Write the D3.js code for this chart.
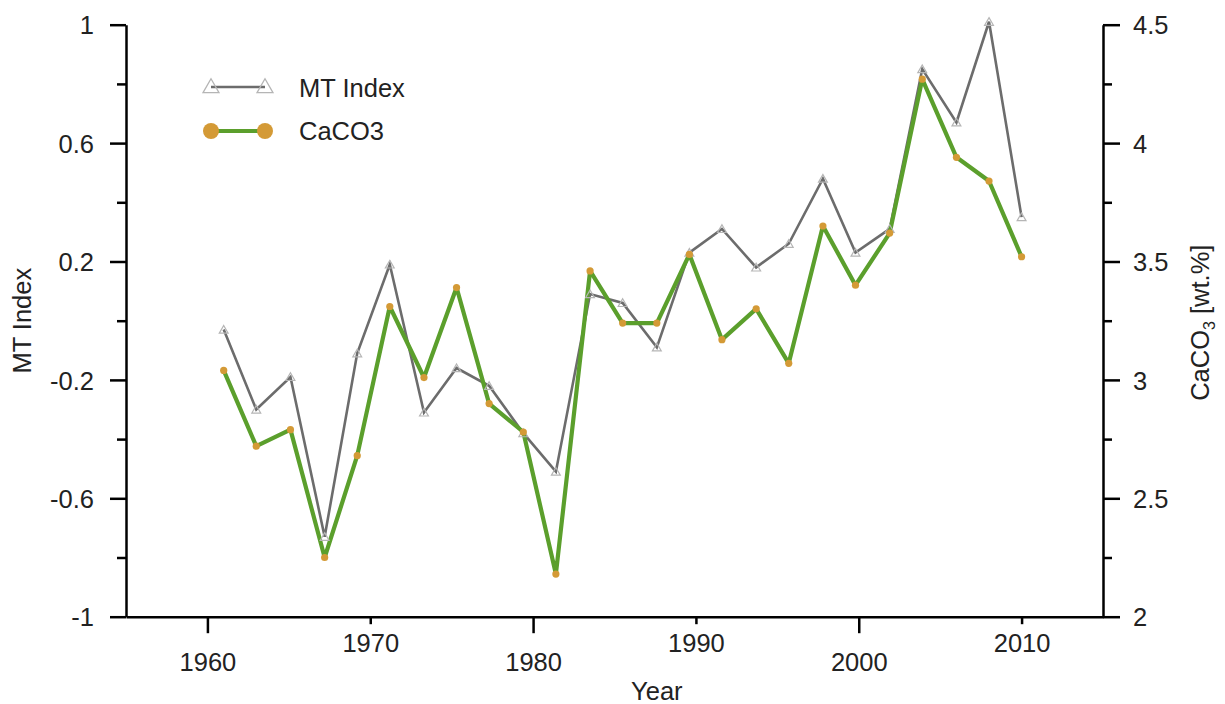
<!DOCTYPE html>
<html>
<head>
<meta charset="utf-8">
<script src="https://cdn.jsdelivr.net/npm/d3@7/dist/d3.min.js"></script>
<style>
  body { margin: 0; background: #fff; }
  svg { display: block; font-family: "Liberation Sans", Arial, sans-serif; }
  .axis path, .axis line { stroke: #000; stroke-width: 2.5px; }
  .axis text { font-size: 25.5px; fill: #222; }
</style>
</head>
<body>
<svg id="chart" width="1225" height="704"></svg>
<script>
// sampling years
var years = [1961.0, 1963.0, 1965.1, 1967.2, 1969.2, 1971.2, 1973.3, 1975.3, 1977.3, 1979.4,
  1981.4, 1983.5, 1985.5, 1987.6, 1989.6, 1991.6, 1993.7, 1995.7, 1997.8, 1999.8,
  2001.9, 2003.9, 2006.0, 2008.0, 2010.0];

// left axis series
var mtIndex = [-0.03, -0.30, -0.19, -0.73, -0.11, 0.19, -0.31, -0.16, -0.22, -0.38,
  -0.51, 0.09, 0.06, -0.09, 0.23, 0.31, 0.18, 0.26, 0.48, 0.23,
  0.31, 0.85, 0.67, 1.01, 0.35];

// right axis series, wt.%
var caco3 = [3.04, 2.72, 2.79, 2.25, 2.68, 3.31, 3.01, 3.39, 2.90, 2.78,
  2.18, 3.46, 3.24, 3.24, 3.53, 3.17, 3.30, 3.07, 3.65, 3.40,
  3.62, 4.27, 3.94, 3.84, 3.52];

var xTicks = [1960, 1970, 1980, 1990, 2000, 2010];
var leftTicks = [-1, -0.6, -0.2, 0.2, 0.6, 1];
var leftMinor = [-0.8, -0.4, 0, 0.4, 0.8];
var rightTicks = [2, 2.5, 3, 3.5, 4, 4.5];
var rightMinor = [2.25, 2.75, 3.25, 3.75, 4.25];

var margin = { top: 24.7, right: 122, bottom: 87.3, left: 126 };
var svg = d3.select('#chart');
var width = 1225 - margin.left - margin.right;
var height = 704 - margin.top - margin.bottom;
var fontSize = '25.5px';

var g = svg.append('g')
  .attr('transform', 'translate(' + margin.left + ',' + margin.top + ')');

var x = d3.scaleLinear().domain([1955, 2015]).range([0, width]);
var yL = d3.scaleLinear().domain([-1, 1]).range([height, 0]);
var yR = d3.scaleLinear().domain([2, 4.5]).range([height, 0]);

var fmt = function (d) { return String(d); };

// minor ticks first so the main axes sit on top
g.append('g').attr('class', 'axis')
  .call(d3.axisLeft(yL).tickValues(leftMinor).tickSize(9).tickFormat(''))
  .select('.domain').remove();
g.append('g').attr('class', 'axis')
  .attr('transform', 'translate(' + width + ',0)')
  .call(d3.axisRight(yR).tickValues(rightMinor).tickSize(9).tickFormat(''))
  .select('.domain').remove();

var left = g.append('g').attr('class', 'axis')
  .call(d3.axisLeft(yL).tickValues(leftTicks).tickSize(16).tickSizeOuter(0).tickPadding(16).tickFormat(fmt));
left.selectAll('text').attr('dy', '0.36em');

var right = g.append('g').attr('class', 'axis')
  .attr('transform', 'translate(' + width + ',0)')
  .call(d3.axisRight(yR).tickValues(rightTicks).tickSize(17).tickSizeOuter(0).tickPadding(13).tickFormat(fmt));
right.selectAll('text').attr('dy', '0.36em');

var bottom = g.append('g').attr('class', 'axis')
  .attr('transform', 'translate(0,' + height + ')')
  .call(d3.axisBottom(x).tickValues(xTicks).tickSizeOuter(0).tickFormat(fmt));

// alternate long / short ticks with staggered labels
bottom.selectAll('.tick').each(function (d, i) {
  var t = d3.select(this);
  var long = i % 2 === 0;
  t.select('line').attr('y2', long ? 16.5 : 7.5);
  t.select('text').attr('dy', null).attr('y', long ? 54.5 : 35.5);
});

// axis titles
svg.append('text')
  .attr('x', margin.left + x(1987.6)).attr('y', 700)
  .attr('text-anchor', 'middle').style('font-size', fontSize).attr('fill', '#222')
  .text('Year');

svg.append('text')
  .attr('transform', 'translate(31,' + (margin.top + height / 2) + ') rotate(-90)')
  .attr('text-anchor', 'middle').style('font-size', fontSize).attr('fill', '#222')
  .text('MT Index');

var rt = svg.append('text')
  .attr('transform', 'translate(1209,' + (margin.top + height / 2 + 2) + ') rotate(-90)')
  .attr('text-anchor', 'middle').style('font-size', fontSize).attr('fill', '#222');
rt.append('tspan').text('CaCO');
rt.append('tspan').attr('dy', 6).style('font-size', '16px').text('3');
rt.append('tspan').attr('dy', -6).text(' [wt.%]');

// series
var mtData = years.map(function (yr, i) { return { x: yr, y: mtIndex[i] }; });
var caData = years.map(function (yr, i) { return { x: yr, y: caco3[i] }; });

var grey = '#6c6c6c';
var green = '#5b9f2c';
var orange = '#d49a36';

var mtLine = d3.line().x(function (d) { return x(d.x); }).y(function (d) { return yL(d.y); });
var caLine = d3.line().x(function (d) { return x(d.x); }).y(function (d) { return yR(d.y); });

g.append('path').datum(mtData)
  .attr('d', mtLine).attr('fill', 'none')
  .attr('stroke', grey).attr('stroke-width', 2.6).attr('stroke-linejoin', 'miter');

g.append('path').datum(caData)
  .attr('d', caLine).attr('fill', 'none')
  .attr('stroke', green).attr('stroke-width', 4.2).attr('stroke-linejoin', 'round');

var tri = d3.symbol().type(d3.symbolTriangle).size(34);

g.selectAll('.tri').data(mtData).enter().append('path')
  .attr('class', 'tri')
  .attr('d', tri)
  .attr('transform', function (d) { return 'translate(' + x(d.x) + ',' + (yL(d.y) + 1) + ')'; })
  .attr('fill', 'none').attr('stroke', '#b5b5b5').attr('stroke-width', 1.2);

g.selectAll('.dot').data(caData).enter().append('circle')
  .attr('class', 'dot')
  .attr('cx', function (d) { return x(d.x); })
  .attr('cy', function (d) { return yR(d.y); })
  .attr('r', 3.6)
  .attr('fill', orange);

// legend
var legend = svg.append('g');
var bigTri = d3.symbol().type(d3.symbolTriangle).size(110);

legend.append('line')
  .attr('x1', 211).attr('x2', 265).attr('y1', 87).attr('y2', 87)
  .attr('stroke', grey).attr('stroke-width', 2.6);
[211, 265].forEach(function (cx) {
  legend.append('path').attr('d', bigTri)
    .attr('transform', 'translate(' + cx + ',88)')
    .attr('fill', 'none').attr('stroke', '#b5b5b5').attr('stroke-width', 1.3);
});
legend.append('text').attr('x', 299).attr('y', 97)
  .style('font-size', fontSize).attr('fill', '#222').text('MT Index');

legend.append('line')
  .attr('x1', 211).attr('x2', 265).attr('y1', 131).attr('y2', 131)
  .attr('stroke', green).attr('stroke-width', 4.2);
[211, 265].forEach(function (cx) {
  legend.append('circle').attr('cx', cx).attr('cy', 131).attr('r', 8)
    .attr('fill', orange);
});
legend.append('text').attr('x', 299).attr('y', 140)
  .style('font-size', fontSize).attr('fill', '#222').text('CaCO3');
</script>
</body>
</html>
